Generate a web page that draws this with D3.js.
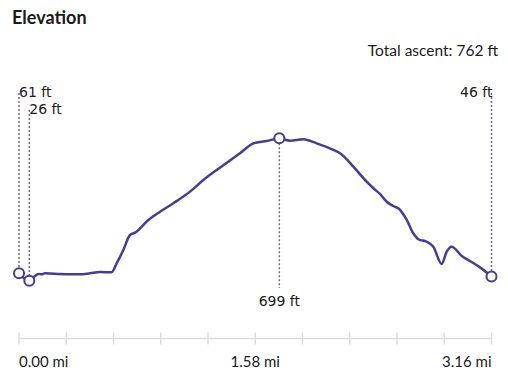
<!DOCTYPE html>
<html><head><meta charset="utf-8">
<script src="https://cdn.jsdelivr.net/npm/d3@7"></script>
<style>body{margin:0;background:#fff}svg{display:block}text{font-family:Lato, "Noto Sans", sans-serif;fill:#1a1a1a}text.ml{font-family:"DejaVu Sans", sans-serif}</style>
</head><body>
<svg id="c" width="508" height="382"></svg>
<script>
const distances = [0,0.069,0.107,0.129,0.152,0.174,0.274,0.408,0.475,0.542,0.620,0.653,0.698,0.742,0.776,0.865,0.943,1.032,1.144,1.233,1.322,1.478,1.567,1.657,1.741,1.812,1.901,1.991,2.102,2.147,2.236,2.325,2.370,2.414,2.459,2.503,2.537,2.593,2.637,2.671,2.727,2.771,2.827,2.860,2.894,2.961,3.016,3.083,3.16];
const elevations = [61,26,48,58,56,61,58,56,61,67,66,108,171,242,253,313,352,392,447,502,549,628,675,686,699,688,694,675,644,628,565,494,463,436,399,379,368,313,250,222,210,187,105,163,187,143,119,89,46];
const tickValues = [0,0.316,0.632,0.948,1.264,1.58,1.896,2.212,2.528,2.844,3.16];
const tickLabels = ["0.00 mi","","","","","1.58 mi","","","","","3.16 mi"];
const markers = [
  {i:0, label:"61 ft", pos:"topStart"},
  {i:1, label:"26 ft", pos:"topStart2"},
  {i:24, label:"699 ft", pos:"below"},
  {i:48, label:"46 ft", pos:"topEnd"}
];
const title = "Elevation";
const ascentText = "Total ascent: 762 ft";

const svg = d3.select("#c");
const color = "#473c92";
const x = d3.scaleLinear().domain([0,3.16]).range([19,491.5]);
const y = d3.scaleLinear().domain([26,699]).range([280.7,138.3]);

svg.append("text").attr("x",12).attr("y",24).attr("font-size",18).attr("font-weight",700).text(title);
svg.append("text").attr("x",498).attr("y",56).attr("font-size",15.5).attr("text-anchor","end").text(ascentText);

// axis
const ax = svg.append("g").attr("transform","translate(0,338.5)");
ax.append("line").attr("x1",x(0)).attr("x2",x(3.16)).attr("stroke","#dcdcdc").attr("stroke-width",1.5);
ax.selectAll("line.t").data(tickValues).join("line").attr("class","t")
  .attr("x1",d=>x(d)).attr("x2",d=>x(d)).attr("y1",-6).attr("y2",6).attr("stroke","#dcdcdc").attr("stroke-width",1.5);
ax.selectAll("text").data(tickValues).join("text")
  .attr("x",d=>x(d)).attr("y",28).attr("font-size",15)
  .attr("text-anchor",(d,i)=> i===0?"start":(i===tickValues.length-1?"end":"middle"))
  .text((d,i)=>tickLabels[i]);

const data = distances.map((d,i)=>({d, e:elevations[i]}));

// dotted guides
const guide = {topStart:93, topStart2:110, topEnd:93, below:288};
markers.forEach(m=>{
  const p = data[m.i];
  const px = x(p.d), py = y(p.e);
  const g = guide[m.pos];
  svg.append("line").attr("x1",px).attr("x2",px)
    .attr("y1", m.pos==="below" ? py+5 : g)
    .attr("y2", m.pos==="below" ? g : py-5)
    .attr("stroke","#6e64ad").attr("stroke-width",1.5).attr("stroke-dasharray","2,2");
  let tx=px, ty, anchor;
  if(m.pos==="topStart"){ty=97;anchor="start";tx=px;}
  else if(m.pos==="topStart2"){ty=114;anchor="start";tx=px;}
  else if(m.pos==="topEnd"){ty=97;anchor="end";tx=px+1;}
  else {ty=306;anchor="middle";}
  svg.append("text").attr("class","ml").attr("x",tx).attr("y",ty).attr("font-size",14).attr("text-anchor",anchor).text(m.label);
});

svg.append("path").datum(data)
  .attr("d", d3.line().x(d=>x(d.d)).y(d=>y(d.e)).curve(d3.curveMonotoneX))
  .attr("fill","none").attr("stroke",color).attr("stroke-width",2.5).attr("stroke-linejoin","round");

svg.selectAll("circle.m").data(markers).join("circle").attr("class","m")
  .attr("cx",m=>x(data[m.i].d)).attr("cy",m=>y(data[m.i].e)).attr("r",5)
  .attr("fill","#fff").attr("stroke",color).attr("stroke-width",2);
</script>
</body></html>
